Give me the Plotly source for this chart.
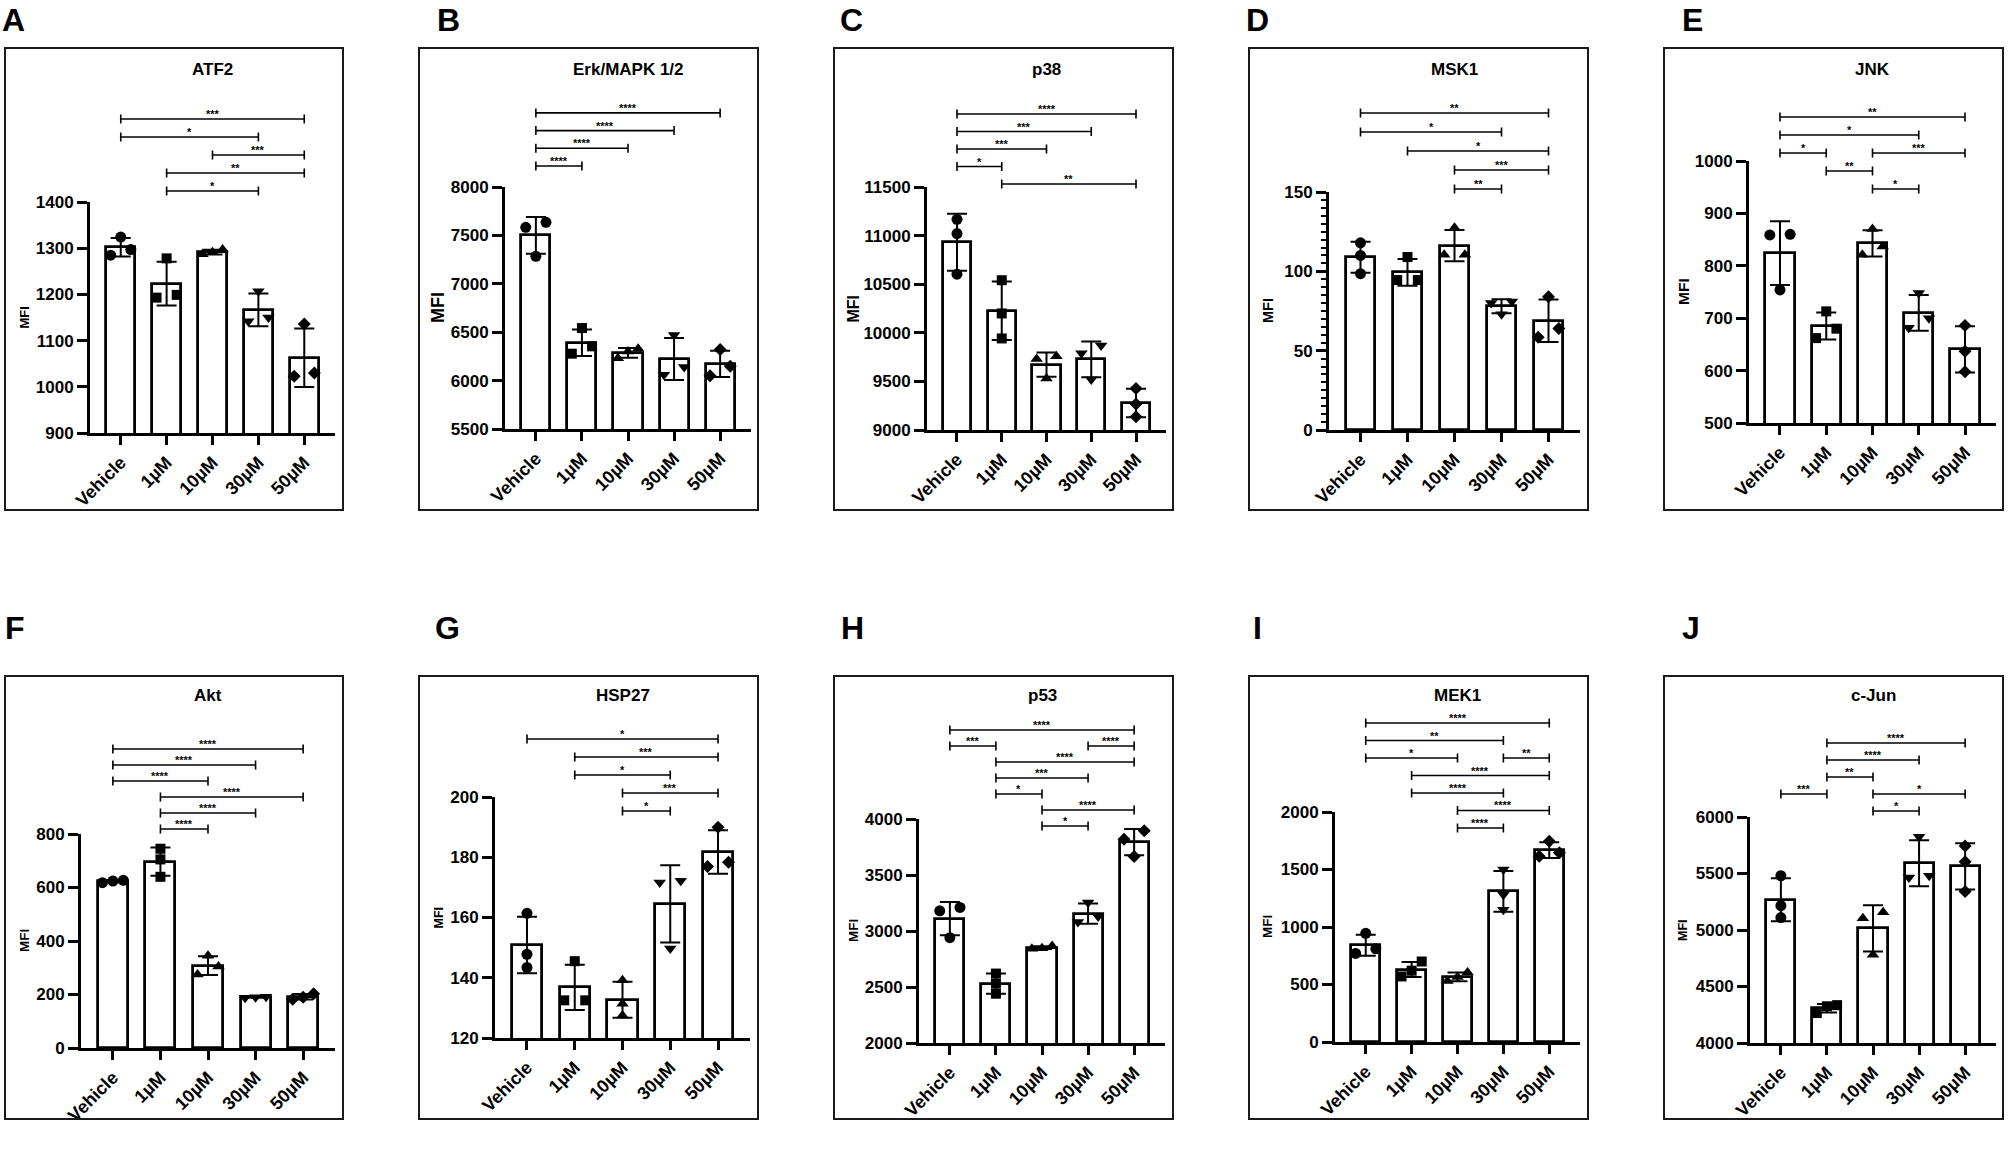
import numpy as np
import plotly.graph_objects as go

W, H = 2008, 1153
FONT = "Liberation Sans"

CATS = ["Vehicle", "1µM", "10µM", "30µM", "50µM"]
SYMBOLS = ["circle", "square", "triangle-up", "triangle-down", "diamond"]
SIZES = [11, 10, 11, 11, 10]

# replicate MFI values, one list of 3 per group (Vehicle, 1, 10, 30, 50 µM)
ATF2 = [[1324, 1285, 1297], [1278, 1193, 1199], [1297, 1287, 1291], [1207, 1150, 1142], [1136, 1023, 1030]]
ERK = [[7635, 7583, 7284], [6543, 6278, 6354], [6330, 6230, 6300], [6470, 6060, 6140], [6320, 6051, 6147]]
P38 = [[11168, 11021, 10603], [10541, 10199, 9942], [9760, 9730, 9530], [9870, 9790, 9520], [9428, 9267, 9137]]
MSK1 = [[118, 110, 98.5], [109, 94.5, 94.5], [127.5, 110.5, 110.5], [81, 80, 73], [84, 58.5, 64]]
JNK = [[860, 859, 754], [713, 662, 680], [870, 821, 837], [748, 682, 700], [686, 637, 598]]
AKT = [[618, 627, 624], [745, 705, 640], [345, 305, 275], [190, 192, 188], [182, 203, 190]]
HSP27 = [[161.4, 147.8, 143.4], [145.5, 132.5, 132.5], [139.2, 131.4, 127.5], [172.2, 171.6, 149.7], [190, 176.9, 178.3]]
P53 = [[3210, 3180, 2940], [2620, 2530, 2440], [2865, 2842, 2846], [3255, 3080, 3130], [3895, 3820, 3665]]
MEK1 = [[945, 770, 810], [700, 570, 620], [605, 530, 565], [1500, 1280, 1150], [1745, 1615, 1645]]
CJUN = [[5480, 5215, 5110], [4335, 4325, 4265], [5158, 5105, 4780], [5825, 5465, 5480], [5744, 5605, 5340]]

# y axis: min, max, tick step
ATF2_AX = (900, 1400, 100)
ERK_AX = (5500, 8000, 500)
P38_AX = (9000, 11500, 500)
MSK1_AX = (0, 150, 50)
JNK_AX = (500, 1000, 100)
AKT_AX = (0, 800, 200)
HSP27_AX = (120, 200, 20)
P53_AX = (2000, 4000, 500)
MEK1_AX = (0, 2000, 500)
CJUN_AX = (4000, 6000, 500)

# comparisons: (group a, group b, stars, row counted from the bottom)
ATF2_SIG = [(1, 3, "*", 0), (1, 4, "**", 1), (2, 4, "***", 2), (0, 3, "*", 3), (0, 4, "***", 4)]
ERK_SIG = [(0, 1, "****", 0), (0, 2, "****", 1), (0, 3, "****", 2), (0, 4, "****", 3)]
P38_SIG = [(1, 4, "**", 0), (0, 1, "*", 1), (0, 2, "***", 2), (0, 3, "***", 3), (0, 4, "****", 4)]
MSK1_SIG = [(2, 3, "**", 0), (2, 4, "***", 1), (1, 4, "*", 2), (0, 3, "*", 3), (0, 4, "**", 4)]
JNK_SIG = [(2, 3, "*", 0), (1, 2, "**", 1), (0, 1, "*", 2), (2, 4, "***", 2), (0, 3, "*", 3), (0, 4, "**", 4)]
AKT_SIG = [(1, 2, "****", 0), (1, 3, "****", 1), (1, 4, "****", 2), (0, 2, "****", 3), (0, 3, "****", 4), (0, 4, "****", 5)]
HSP27_SIG = [(2, 3, "*", 0), (2, 4, "***", 1), (1, 3, "*", 2), (1, 4, "***", 3), (0, 4, "*", 4)]
P53_SIG = [(2, 3, "*", 0), (2, 4, "****", 1), (1, 2, "*", 2), (1, 3, "***", 3), (1, 4, "****", 4),
           (0, 1, "***", 5), (3, 4, "****", 5), (0, 4, "****", 6)]
MEK1_SIG = [(2, 3, "****", 0), (2, 4, "****", 1), (1, 3, "****", 2), (1, 4, "****", 3),
            (0, 2, "*", 4), (3, 4, "**", 4), (0, 3, "**", 5), (0, 4, "****", 6)]
CJUN_SIG = [(2, 3, "*", 0), (0, 1, "***", 1), (2, 4, "*", 1), (1, 2, "**", 2), (1, 3, "****", 3), (1, 4, "****", 4)]

PANELS = [
    ("A", "ATF2", ATF2, ATF2_AX, ATF2_SIG),
    ("B", "Erk/MAPK 1/2", ERK, ERK_AX, ERK_SIG),
    ("C", "p38", P38, P38_AX, P38_SIG),
    ("D", "MSK1", MSK1, MSK1_AX, MSK1_SIG),
    ("E", "JNK", JNK, JNK_AX, JNK_SIG),
    ("F", "Akt", AKT, AKT_AX, AKT_SIG),
    ("G", "HSP27", HSP27, HSP27_AX, HSP27_SIG),
    ("H", "p53", P53, P53_AX, P53_SIG),
    ("I", "MEK1", MEK1, MEK1_AX, MEK1_SIG),
    ("J", "c-Jun", CJUN, CJUN_AX, CJUN_SIG),
]

# pixel geometry: frame(x0,y0,x1,y1), y-axis x, x-axis y, top tick y, x-axis end,
# bracket base y, bracket step, MFI size, letter (x, y), title y
GEOM = [
    ((5, 48, 343, 510), 90, 433, 202, 335, 191, 18, 13, (0, 0), 69),
    ((419, 48, 758, 510), 505, 429, 187, 751, 166, 17.7, 18, (435, 0), 69),
    ((834, 48, 1173, 510), 927, 430, 187, 1166, 184, 17.5, 16, (838, 0), 69),
    ((1249, 48, 1588, 510), 1329, 430, 192, 1580, 189, 19, 14.5, (1244, 0), 69),
    ((1664, 48, 2003, 510), 1749, 423, 161, 1996, 189, 18, 15.5, (1680, 0), 69),
    ((5, 676, 343, 1119), 81, 1048, 834, 335, 829, 16, 13.5, (3, 608), 695),
    ((419, 676, 758, 1119), 495, 1038, 797, 750, 811, 18, 12.5, (433, 608), 695),
    ((834, 676, 1173, 1119), 919, 1043, 819, 1165, 826, 16, 13.5, (839, 608), 695),
    ((1249, 676, 1588, 1119), 1335, 1042, 812, 1580, 828, 17.5, 13.5, (1251, 608), 695),
    ((1664, 676, 2003, 1119), 1750, 1043, 817, 1996, 811, 17, 12.5, (1680, 608), 695),
]

XR = (-0.67, 4.67)


def fx(px):
    return px / W


def fy(py):
    return 1 - py / H


def spread(vals, ppu, d=0.22, near=10):
    """horizontal offsets so close points sit side by side"""
    vals = np.asarray(vals, float)
    order = np.argsort(vals)
    groups, cur = [], [order[0]]
    for k in order[1:]:
        if (vals[k] - vals[cur[-1]]) * ppu < near:
            cur.append(k)
        else:
            groups.append(cur)
            cur = [k]
    groups.append(cur)
    offs = np.zeros(len(vals))
    for g in groups:
        n = len(g)
        for m, k in enumerate(g):
            offs[k] = 0 if n == 1 else -d + m * 2 * d / (n - 1)
    return offs


fig = go.Figure()
shapes, annos = [], []
bold = dict(family=FONT, color="black", weight="bold")

for i, ((letter, title, reps, ax, sig), g) in enumerate(zip(PANELS, GEOM), start=1):
    frame, yax_px, xax_py, top_py, right_px, base_py, step_py, mfi_size, (lx, ly), ty = g
    xa = "x" if i == 1 else f"x{i}"
    ya = "y" if i == 1 else f"y{i}"
    ymin, ymax, dtick = ax

    reps = np.asarray(reps, float)
    means = reps.mean(axis=1)
    sds = reps.std(axis=1, ddof=1)

    fig.add_trace(go.Bar(
        x=list(range(len(CATS))), y=means, width=0.63,
        marker=dict(color="white", line=dict(color="black", width=2.8)),
        error_y=dict(type="data", array=sds, color="black", thickness=2, width=10),
        xaxis=xa, yaxis=ya, showlegend=False, hoverinfo="skip",
    ))

    ppu = (xax_py - top_py) / (ymax - ymin)
    px_, py_, sym, siz = [], [], [], []
    for k, vals in enumerate(reps):
        offs = spread(vals, ppu)
        px_ += list(k + offs)
        py_ += list(vals)
        sym += [SYMBOLS[k]] * len(vals)
        siz += [SIZES[k]] * len(vals)
    fig.add_trace(go.Scatter(
        x=px_, y=py_, mode="markers",
        marker=dict(color="black", symbol=sym, size=siz, opacity=1, line=dict(width=0)),
        xaxis=xa, yaxis=ya, showlegend=False, hoverinfo="skip",
    ))

    xdom = [fx(yax_px), fx(right_px)]
    ydom = [fy(xax_py), fy(top_py)]
    key = "" if i == 1 else str(i)
    fig.layout["xaxis" + key] = dict(
        domain=xdom, range=list(XR), anchor=ya,
        tickmode="array", tickvals=list(range(len(CATS))), ticktext=CATS,
        tickangle=-45, ticks="outside", ticklen=9, tickwidth=2.5, tickcolor="black",
        showline=True, linewidth=2.8, linecolor="black",
        showgrid=False, zeroline=False, fixedrange=True,
        tickfont=dict(size=18, **bold),
    )
    yax = dict(
        domain=ydom, range=[ymin, ymax], anchor=xa,
        tick0=ymin, dtick=dtick, tickformat="d",
        ticks="outside", ticklen=10, tickwidth=2.5, tickcolor="black",
        showline=True, linewidth=2.8, linecolor="black",
        showgrid=False, zeroline=False, fixedrange=True,
        tickfont=dict(size=17, **bold),
    )
    if letter == "D":
        yax["minor"] = dict(dtick=5, ticks="outside", ticklen=5, tickwidth=1.5, tickcolor="black", showgrid=False)
    fig.layout["yaxis" + key] = yax

    # frame around panel
    x0, y0, x1, y1 = frame
    shapes.append(dict(type="rect", xref="paper", yref="paper",
                       x0=fx(x0), x1=fx(x1), y0=fy(y0), y1=fy(y1),
                       line=dict(color="#1a1a1a", width=2)))

    # significance brackets
    for a, b, stars, row in sig:
        yb = base_py - row * step_py
        ln = dict(color="black", width=1.6)
        shapes.append(dict(type="line", xref=xa, yref="paper", x0=a, x1=b, y0=fy(yb), y1=fy(yb), line=ln))
        for e in (a, b):
            shapes.append(dict(type="line", xref=xa, yref="paper", x0=e, x1=e,
                               y0=fy(yb - 4.5), y1=fy(yb + 4.5), line=ln))
        annos.append(dict(text=stars, xref=xa, yref="paper", x=(a + b) / 2, y=fy(yb - 5),
                          xanchor="center", yanchor="middle", showarrow=False,
                          font=dict(size=11, **bold)))

    annos.append(dict(text=title, xref="paper", yref="paper", x=sum(xdom) / 2, y=fy(ty),
                      xanchor="center", yanchor="middle", showarrow=False,
                      font=dict(size=17, **bold)))
    annos.append(dict(text="MFI", xref="paper", yref="paper", x=fx(x0 + 19), y=sum(ydom) / 2,
                      xanchor="center", yanchor="middle", textangle=-90, showarrow=False,
                      font=dict(size=mfi_size, **bold)))
    annos.append(dict(text=letter, xref="paper", yref="paper", x=fx(lx), y=fy(ly),
                      xanchor="left", yanchor="top", showarrow=False,
                      font=dict(size=32, **bold)))

fig.update_layout(
    width=W, height=H,
    margin=dict(l=0, r=0, t=0, b=0, pad=0, autoexpand=False),
    paper_bgcolor="white", plot_bgcolor="white",
    showlegend=False, bargap=0,
    shapes=shapes, annotations=annos,
)

fig.write_html("out.html", config={"displayModeBar": False},
               post_script="document.body.style.margin='0';document.body.style.overflow='hidden';")
